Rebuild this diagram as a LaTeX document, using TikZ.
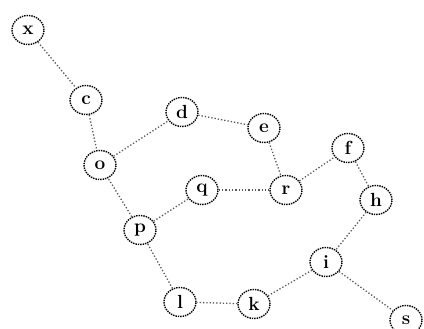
\documentclass[tikz,border=0pt]{standalone}
\usetikzlibrary{shapes.geometric}
\begin{document}
\begin{tikzpicture}[x=1pt,y=-1pt,
  vert/.style={ellipse,draw=black,densely dotted,line width=1.4pt,minimum width=32pt,minimum height=29pt,inner sep=0pt,font=\bfseries\fontsize{19}{19}\selectfont},
  edge/.style={draw=black!65,dotted,line width=1.3pt}]
\useasboundingbox (0,0) rectangle (424,329);
\node[vert] (x) at (28,30) {x};
\node[vert] (c) at (86,100) {c};
\node[vert] (d) at (182,112) {d};
\node[vert] (e) at (264,128) {e};
\node[vert] (f) at (348,148) {f};
\node[vert] (o) at (100,165) {o};
\node[vert] (q) at (202,190) {q};
\node[vert] (r) at (286,190) {r};
\node[vert] (h) at (376,200) {h};
\node[vert] (p) at (140,230) {p};
\node[vert] (i) at (326,262) {i};
\node[vert] (l) at (180,302) {l};
\node[vert] (k) at (254,304) {k};
\node[vert] (s) at (406,320) {s};
\draw[edge] (x) -- (c);
\draw[edge] (c) -- (o);
\draw[edge] (o) -- (d);
\draw[edge] (d) -- (e);
\draw[edge] (e) -- (r);
\draw[edge] (r) -- (f);
\draw[edge] (f) -- (h);
\draw[edge] (h) -- (i);
\draw[edge] (i) -- (k);
\draw[edge] (i) -- (s);
\draw[edge] (k) -- (l);
\draw[edge] (l) -- (p);
\draw[edge] (p) -- (q);
\draw[edge] (q) -- (r);
\draw[edge] (p) -- (o);
\end{tikzpicture}
\end{document}
